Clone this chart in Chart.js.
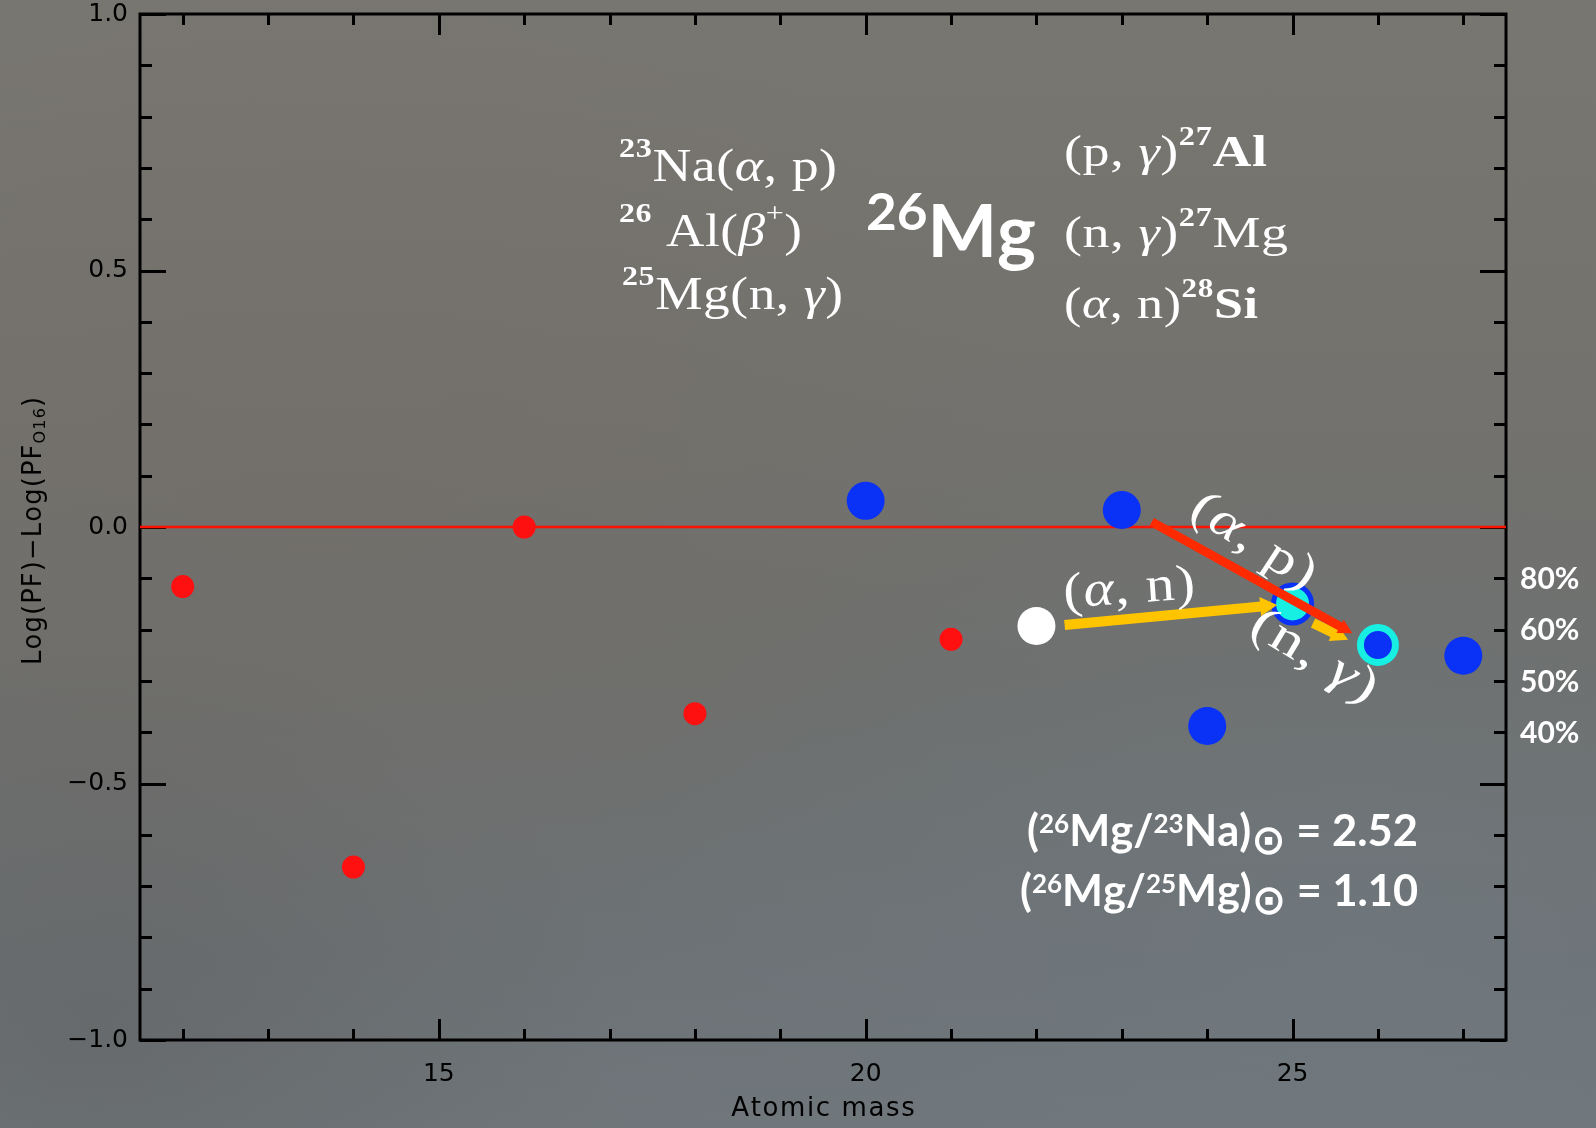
<!DOCTYPE html>
<html><head><meta charset="utf-8">
<script src="https://cdn.jsdelivr.net/npm/chart.js@4.4.1/dist/chart.umd.min.js"></script>
<style>
html,body{margin:0;padding:0;width:1596px;height:1128px;overflow:hidden;}
body{
background:
 radial-gradient(ellipse 520px 420px at 6% 92%, rgba(80,72,68,0.22), rgba(80,72,68,0) 100%),
 radial-gradient(ellipse 700px 500px at 20% 40%, rgba(118,108,100,0.30), rgba(118,108,100,0) 100%),
 radial-gradient(ellipse 800px 500px at 85% 85%, rgba(112,124,132,0.45), rgba(112,124,132,0) 100%),
 linear-gradient(180deg, #787670 0%, #73726e 35%, #6e6f6d 60%, #6d7275 85%, #6f767a 100%);
}
canvas{display:block;}
</style></head><body>
<canvas id="c" width="1596" height="1128"></canvas>
<script>
// ---------- data ----------
const xMin = 11.5, xMax = 27.5, yMin = -1.0, yMax = 1.0;
const xTickValues = [12,13,14,15,16,17,18,19,20,21,22,23,24,25,26,27];
const xMajorTicks = [15,20,25];
const yTickValues = [-1.0,-0.9,-0.8,-0.7,-0.6,-0.5,-0.4,-0.3,-0.2,-0.1,0.0,0.1,0.2,0.3,0.4,0.5,0.6,0.7,0.8,0.9,1.0];
const yMajorTicks = [-1.0,-0.5,0.0,0.5,1.0];

const redX = [12, 14, 16, 18, 21];
const redY = [-0.116, -0.663, 0.000, -0.364, -0.219];
const blueX = [20, 23, 24, 27];
const blueY = [0.051, 0.033, -0.388, -0.251];
const whiteX = [22];
const whiteY = [-0.193];
const blueRingX = [25];
const blueRingY = [-0.150];
const cyanRingX = [26];
const cyanRingY = [-0.230];
const refLineX = [11.5, 27.5];
const refLineY = [0.0, 0.0];

const percentLabels = ['80%', '60%', '50%', '40%'];
const percentY = [-0.1, -0.2, -0.3, -0.4];

// arrows (data units): (alpha,n) yellow, (n,gamma) yellow, (alpha,p) red
const arrowX0 = [22.33, 25.24, 23.35];
const arrowY0 = [-0.191, -0.187, 0.010];
const arrowX1 = [24.82, 25.65, 25.70];
const arrowY1 = [-0.152, -0.220, -0.207];
const arrowKind = ['yellow', 'yellow', 'red'];

// ---------- helpers ----------
const pts = (xs, ys) => xs.map((x, i) => ({x, y: ys[i]}));

function layoutRich(ctx, segs, base) {
  const items = []; let w = 0; const sp = base.spacing || 0;
  for (const s of segs) {
    const sc = s.sup ? base.supScale : (s.sub ? base.subScale : 1);
    const sz = base.size * sc;
    const weight = s.bold ? 'bold' : (base.weight || 'normal');
    const style = s.italic ? 'italic' : 'normal';
    const font = `${style} ${weight} ${sz}px ${base.family}`;
    ctx.font = font;
    const dy = s.sup ? -base.supRaise * base.size : (s.sub ? base.subDrop * base.size : 0);
    for (const ch of s.t) {
      const cw = ctx.measureText(ch).width;
      items.push({ch, font, x: w, dy});
      w += cw + sp;
    }
  }
  return {items, w: w - sp};
}
function drawRich(ctx, segs, base, x, y, opt) {
  const L = layoutRich(ctx, segs, base);
  ctx.save();
  ctx.translate(x, y);
  if (opt.angle) ctx.rotate(opt.angle);
  const sx = opt.width ? opt.width / L.w : 1;
  ctx.scale(sx, 1);
  const x0 = opt.align === 'center' ? -L.w / 2 : (opt.align === 'right' ? -L.w : 0);
  ctx.fillStyle = opt.color || '#fff';
  ctx.textBaseline = 'alphabetic';
  ctx.textAlign = 'left';
  for (const it of L.items) { ctx.font = it.font; ctx.fillText(it.ch, x0 + it.x, it.dy); }
  ctx.restore();
}
function drawArrow(ctx, x0, y0, x1, y1, color, w, hl, hw) {
  const a = Math.atan2(y1 - y0, x1 - x0);
  const len = Math.hypot(x1 - x0, y1 - y0);
  ctx.save();
  ctx.translate(x0, y0); ctx.rotate(a);
  ctx.fillStyle = color;
  ctx.fillRect(0, -w / 2, len - hl + 1, w);
  ctx.beginPath();
  ctx.moveTo(len, 0); ctx.lineTo(len - hl, -hw / 2); ctx.lineTo(len - hl, hw / 2); ctx.closePath();
  ctx.fill();
  ctx.restore();
}
const isMajorY = v => yMajorTicks.some(m => Math.abs(m - v) < 1e-9);
const isMajorX = v => xMajorTicks.some(m => Math.abs(m - v) < 1e-9);

const serif = '"Liberation Serif", "DejaVu Serif", serif';
const calib = 'Lato, "DejaVu Sans", sans-serif';
const cmBase = {size: 46, family: serif, supScale: 0.6, supRaise: 0.52, spacing: 0.5};
const cmRight = {size: 44, family: serif, supScale: 0.6, supRaise: 0.48, spacing: 0.5};

const overlay = {
  id: 'overlay',
  beforeDatasetsDraw(chart) {
    const {ctx, chartArea: ca, scales: {x, y}} = chart;
    ctx.save();
    ctx.strokeStyle = '#000'; ctx.lineWidth = 3; ctx.lineCap = 'butt';
    ctx.strokeRect(ca.left, ca.top, ca.right - ca.left, ca.bottom - ca.top);
    ctx.beginPath();
    for (const v of yTickValues) {
      const py = Math.round(y.getPixelForValue(v)) + 0.5;
      const L = isMajorY(v) ? 26 : 12;
      ctx.moveTo(ca.left, py); ctx.lineTo(ca.left + L, py);
      ctx.moveTo(ca.right, py); ctx.lineTo(ca.right - L, py);
    }
    for (const v of xTickValues) {
      const px = Math.round(x.getPixelForValue(v)) + 0.5;
      const L = isMajorX(v) ? 21 : 11;
      ctx.moveTo(px, ca.bottom); ctx.lineTo(px, ca.bottom - L);
      ctx.moveTo(px, ca.top); ctx.lineTo(px, ca.top + L);
    }
    ctx.stroke();
    ctx.restore();
  },
  afterDatasetsDraw(chart) {
    const {ctx, chartArea: ca, scales: {x, y}} = chart;
    // arrows
    const colors = {yellow: '#ffc400', red: '#ff2a00'};
    for (let i = 0; i < arrowKind.length; i++) {
      const k = arrowKind[i];
      drawArrow(ctx, x.getPixelForValue(arrowX0[i]), y.getPixelForValue(arrowY0[i]),
        x.getPixelForValue(arrowX1[i]), y.getPixelForValue(arrowY1[i]),
        colors[k], k === 'red' ? 9 : 10, k === 'red' ? 14 : 17, k === 'red' ? 15 : 19);
    }
    // reaction formulas (left)
    const lx = 619;
    drawRich(ctx, [{t:'23', sup:true, bold:true}, {t:'Na('}, {t:'α', italic:true}, {t:', p)'}], cmBase, lx, 181, {width: 218});
    drawRich(ctx, [{t:'26', sup:true, bold:true}, {t:' Al('}, {t:'β', italic:true}, {t:'+', sup:true}, {t:')'}], cmBase, lx, 246, {width: 183});
    drawRich(ctx, [{t:'25', sup:true, bold:true}, {t:'Mg(n, '}, {t:'γ', italic:true}, {t:')'}], cmBase, lx + 3, 309, {width: 221});
    // right
    const rx = 1064;
    drawRich(ctx, [{t:'(p, '}, {t:'γ', italic:true}, {t:')'}, {t:'27', sup:true, bold:true}, {t:'Al', bold:true}], cmRight, rx, 166, {width: 203});
    drawRich(ctx, [{t:'(n, '}, {t:'γ', italic:true}, {t:')'}, {t:'27', sup:true, bold:true}, {t:'Mg'}], cmRight, rx, 247, {width: 224});
    drawRich(ctx, [{t:'('}, {t:'α', italic:true}, {t:', n)'}, {t:'28', sup:true, bold:true}, {t:'Si', bold:true}], cmRight, rx, 318, {width: 194});
    // big 26Mg
    drawRich(ctx, [{t:'26', sup:true}, {t:'Mg'}], {size: 72, family: calib, weight: 'bold', supScale: 0.72, supRaise: 0.38}, 866, 257, {width: 170});
    // ratios
    const rb = {size: 44, family: calib, weight: 'bold', supScale: 0.6, supRaise: 0.3, subScale: 0.95, subDrop: 0.18};
    drawRich(ctx, [{t:'('}, {t:'26', sup:true}, {t:'Mg/'}, {t:'23', sup:true}, {t:'Na)'}, {t:'⊙', sub:true}, {t:' = 2.52'}], rb, 1418, 846, {align:'right', width: 391});
    drawRich(ctx, [{t:'('}, {t:'26', sup:true}, {t:'Mg/'}, {t:'25', sup:true}, {t:'Mg)'}, {t:'⊙', sub:true}, {t:' = 1.10'}], rb, 1418, 906, {align:'right', width: 398});
    // reaction labels on arrows
    const lb = {size: 50, family: serif, supScale: 0.6, supRaise: 0.6, spacing: 1};
    const deg = Math.PI / 180;
    drawRich(ctx, [{t:'('}, {t:'α', italic:true}, {t:', n)'}], lb, 1130, 603, {align:'center', angle: -4 * deg, width: 132});
    drawRich(ctx, [{t:'('}, {t:'α', italic:true}, {t:', p)'}], lb, 1246, 553, {align:'center', angle: 33 * deg, width: 140});
    drawRich(ctx, [{t:'(n, '}, {t:'γ', italic:true}, {t:')'}], lb, 1307, 668, {align:'center', angle: 31 * deg, width: 140});
    // percent labels
    ctx.save();
    ctx.fillStyle = '#fff'; ctx.font = 'bold 30px ' + calib; ctx.textAlign = 'left'; ctx.textBaseline = 'middle';
    percentLabels.forEach((t, i) => ctx.fillText(t, ca.right + 14, y.getPixelForValue(percentY[i]) + 1));
    ctx.restore();
  },
  afterDraw(chart) {
    const {ctx, chartArea: ca} = chart;
    const tb = {size: 26, family: '"DejaVu Sans", sans-serif', spacing: 1.2, subScale: 0.62, subDrop: 0.16};
    drawRich(ctx, [{t:'Atomic mass'}], {size: 26, family: '"DejaVu Sans", sans-serif', spacing: 1.6}, (ca.left + ca.right) / 2, 1116, {align:'center', color:'#000'});
    drawRich(ctx, [{t:'Log(PF)−Log(PF'}, {t:'O16', sub:true}, {t:')'}], tb, 41, (ca.top + ca.bottom) / 2 + 4, {align:'center', angle: -Math.PI / 2, color:'#000', width: 268});
  }
};

const chart = new Chart(document.getElementById('c'), {
  type: 'scatter',
  data: {
    datasets: [
      {label: 'zero', data: pts(refLineX, refLineY), showLine: true, borderColor: '#ff1200', borderWidth: 2.5, pointRadius: 0, order: 10},
      {label: 'red', data: pts(redX, redY), backgroundColor: '#ff1010', borderWidth: 0, pointRadius: 11.5, order: 5},
      {label: 'blue', data: pts(blueX, blueY), backgroundColor: '#0a32f6', borderWidth: 0, pointRadius: 19, order: 4},
      {label: 'white', data: pts(whiteX, whiteY), backgroundColor: '#ffffff', borderWidth: 0, pointRadius: 19, order: 3},
      {label: 'blueRing', data: pts(blueRingX, blueRingY), backgroundColor: '#16efe2', borderColor: '#0a32f6', borderWidth: 5, pointRadius: 19, order: 2},
      {label: 'cyanRing', data: pts(cyanRingX, cyanRingY), backgroundColor: '#0a32f6', borderColor: '#16efe2', borderWidth: 7, pointRadius: 17.5, order: 1}
    ]
  },
  options: {
    responsive: false, animation: false, devicePixelRatio: 1,
    layout: {autoPadding: false, padding: {left: 0, top: 14, right: 90, bottom: 0}},
    plugins: {legend: {display: false}, tooltip: {enabled: false}},
    events: [],
    scales: {
      x: {
        type: 'linear', min: xMin, max: xMax,
        afterBuildTicks: s => { s.ticks = xTickValues.map(v => ({value: v})); },
        afterFit: s => { s.height = 88; s.paddingLeft = 0; s.paddingRight = 0; s.paddingTop = 0; s.paddingBottom = 0; },
        ticks: {autoSkip: false, maxRotation: 0, padding: 22, color: '#000',
          font: {family: '"DejaVu Sans", sans-serif', size: 25, lineHeight: 1},
          callback: v => isMajorX(v) ? String(v) : ''},
        grid: {display: false, drawTicks: false},
        border: {display: false}
      },
      y: {
        type: 'linear', min: yMin, max: yMax,
        afterBuildTicks: s => { s.ticks = yTickValues.map(v => ({value: v})); },
        afterFit: s => { s.width = 140; s.paddingTop = 0; s.paddingBottom = 0; s.paddingLeft = 0; s.paddingRight = 0; },
        ticks: {autoSkip: false, padding: 12, color: '#000',
          font: {family: '"DejaVu Sans", sans-serif', size: 25, lineHeight: 1},
          callback: v => isMajorY(v) ? (v < 0 ? '−' + Math.abs(v).toFixed(1) : v.toFixed(1)) : ''},
        grid: {display: false, drawTicks: false},
        border: {display: false}
      }
    }
  },
  plugins: [overlay]
});
</script>
</body></html>
